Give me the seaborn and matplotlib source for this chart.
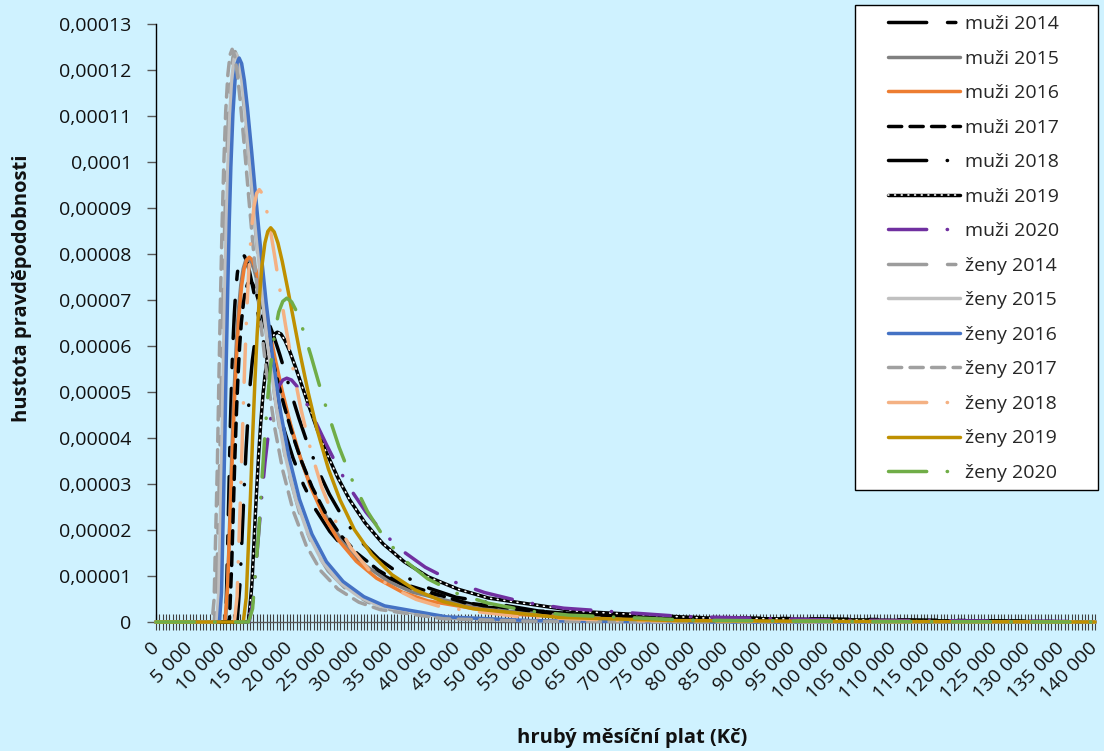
"""
Hustota pravděpodobnosti hrubého měsíčního platu (muži / ženy, 2014-2020).
Values are read off the reference chart, in units of 1e-5.
"""

import matplotlib
matplotlib.use("Agg")
import matplotlib.pyplot as plt
from matplotlib.patches import Rectangle
from matplotlib.ticker import MultipleLocator, FuncFormatter
import seaborn as sns

sns.set_theme(style="white")
plt.rcParams["font.family"] = ["Open Sans", "DejaVu Sans"]

BG = "#cff2ff"
SCALE = 1e-5

# --- data (x in Kč, y in 1e-5) ---------------------------------------------
x_muzi_2014 = [0, 10300, 10430, 10690, 11080, 11280, 11470, 11670, 11860, 12120, 12380,
               12640, 12900, 13210, 13550, 13940, 14460, 14980, 15500, 16280, 17060,
               18100, 19140, 20440, 22000, 23820, 25900, 28500, 31100, 38900, 49300,
               67500, 140000]
y_muzi_2014 = [0, 0, 0.16, 1.66, 4.25, 5.26, 6.06, 6.67, 7.14, 7.57, 7.83,
               7.96, 8.0, 7.95, 7.83, 7.62, 7.26, 6.88, 6.49, 5.91, 5.37,
               4.72, 4.16, 3.56, 2.98, 2.44, 1.97, 1.53, 1.21, 0.65, 0.32,
               0.12, 0]

x_muzi_2015 = [0, 10200, 10380, 10730, 11250, 11510, 11780, 12040, 12300, 12650, 13000,
               13350, 13700, 14120, 14580, 15100, 15800, 16500, 17200, 18250, 19300,
               20700, 22100, 23850, 26000, 28400, 31200, 34700, 38200, 48700, 62700,
               87200, 140000]
y_muzi_2015 = [0, 0, 0.04, 0.99, 3.42, 4.53, 5.46, 6.22, 6.79, 7.34, 7.68,
               7.85, 7.9, 7.84, 7.68, 7.40, 6.95, 6.47, 5.99, 5.29, 4.66,
               3.93, 3.33, 2.71, 2.13, 1.64, 1.23, 0.88, 0.65, 0.28, 0.11,
               0.03, 0]

x_muzi_2016 = [0, 10100, 10290, 10670, 11240, 11530, 11810, 12100, 12380, 12760, 13140,
               13520, 13900, 14360, 14850, 15420, 16180, 16940, 17700, 18840, 19980,
               21500, 23020, 24920, 27200, 29860, 32900, 36700, 40500, 51900, 67100,
               93700, 140000]
y_muzi_2016 = [0, 0, 0.02, 0.74, 3.05, 4.20, 5.20, 6.03, 6.68, 7.30, 7.68,
               7.87, 7.93, 7.87, 7.68, 7.36, 6.85, 6.31, 5.77, 5.01, 4.34,
               3.58, 2.95, 2.33, 1.78, 1.32, 0.95, 0.65, 0.46, 0.18, 0.06,
               0.01, 0]

x_muzi_2017 = [0, 10800, 10960, 11280, 11760, 12000, 12240, 12480, 12720, 13040, 13360,
               13680, 14000, 14380, 14800, 15280, 15920, 16560, 17200, 18160, 19120,
               20400, 21680, 23280, 25200, 27440, 30000, 33200, 36400, 46000, 58800,
               81200, 140000]
y_muzi_2017 = [0, 0, 0.08, 1.22, 3.58, 4.57, 5.38, 6.02, 6.50, 6.94, 7.22,
               7.36, 7.4, 7.36, 7.22, 6.99, 6.62, 6.23, 5.82, 5.23, 4.69,
               4.05, 3.50, 2.93, 2.39, 1.90, 1.49, 1.12, 0.85, 0.42, 0.19,
               0.06, 0]

x_muzi_2018 = [0, 11900, 12110, 12520, 13130, 13440, 13750, 14050, 14360, 14770, 15180,
               15590, 16000, 16490, 17030, 17640, 18460, 19280, 20100, 21330, 22560,
               24200, 25840, 27890, 30350, 33220, 36500, 40600, 44700, 57000, 73400,
               102100, 140000]
y_muzi_2018 = [0, 0, 0.04, 0.83, 2.85, 3.78, 4.56, 5.19, 5.68, 6.13, 6.42,
               6.56, 6.6, 6.55, 6.42, 6.18, 5.81, 5.41, 5.00, 4.42, 3.89,
               3.29, 2.78, 2.26, 1.78, 1.37, 1.03, 0.74, 0.54, 0.24, 0.10,
               0.03, 0]

x_muzi_2019 = [0, 13600, 13830, 14280, 14950, 15290, 15630, 15960, 16300, 16750, 17200,
               17650, 18100, 18640, 19230, 19900, 20800, 21700, 22600, 23950, 25300,
               27100, 28900, 31150, 33850, 37000, 40600, 45100, 49600, 63100, 81100,
               112600, 140000]
y_muzi_2019 = [0, 0, 0.04, 0.79, 2.72, 3.61, 4.35, 4.96, 5.42, 5.85, 6.12,
               6.26, 6.3, 6.26, 6.12, 5.90, 5.54, 5.16, 4.78, 4.22, 3.72,
               3.14, 2.65, 2.16, 1.70, 1.31, 0.98, 0.71, 0.52, 0.23, 0.09,
               0.03, 0]

x_muzi_2020 = [0, 13600, 13900, 14490, 15370, 15810, 16260, 16700, 17140, 17730, 18320,
               18910, 19500, 20210, 20980, 21860, 23040, 24220, 25400, 27170, 28940,
               31300, 33660, 36610, 40150, 44280, 49000, 54900, 60800, 78500, 102100,
               140000]
y_muzi_2020 = [0, 0, 0.01, 0.49, 2.04, 2.81, 3.48, 4.03, 4.46, 4.88, 5.13,
               5.26, 5.3, 5.26, 5.13, 4.92, 4.58, 4.22, 3.86, 3.35, 2.90,
               2.39, 1.97, 1.56, 1.19, 0.88, 0.64, 0.43, 0.30, 0.12, 0.04,
               0.01]

x_zeny_2014 = [0, 8500, 8670, 9000, 9490, 9740, 9990, 10230, 10480, 10810, 11140,
               11470, 11800, 12200, 12630, 13120, 13780, 14440, 15100, 16090, 17080,
               18400, 19720, 21370, 23350, 25660, 28300, 31600, 34900, 44800, 58000,
               81100, 140000]
y_zeny_2014 = [0, 0, 0, 0.51, 3.42, 5.27, 7.03, 8.57, 9.83, 11.07, 11.87,
               12.28, 12.4, 12.26, 11.87, 11.21, 10.19, 9.13, 8.10, 6.70, 5.51,
               4.24, 3.27, 2.39, 1.66, 1.11, 0.72, 0.43, 0.27, 0.07, 0.02,
               0, 0]

x_zeny_2015 = [0, 8900, 9050, 9360, 9820, 10040, 10270, 10500, 10730, 11040, 11340,
               11650, 11950, 12320, 12710, 13170, 13780, 14390, 15000, 15920, 16830,
               18050, 19270, 20800, 22630, 24760, 27200, 30250, 33300, 42450, 54650,
               76000, 140000]
y_zeny_2015 = [0, 0, 0.01, 0.64, 3.75, 5.59, 7.31, 8.78, 9.97, 11.13, 11.86,
               12.24, 12.35, 12.23, 11.86, 11.25, 10.30, 9.30, 8.32, 6.99, 5.83,
               4.58, 3.61, 2.69, 1.93, 1.32, 0.88, 0.55, 0.35, 0.11, 0.03,
               0, 0]

x_zeny_2016 = [0, 9300, 9460, 9770, 10230, 10460, 10700, 10930, 11160, 11470, 11780,
               12090, 12400, 12770, 13180, 13640, 14260, 14880, 15500, 16430, 17360,
               18600, 19840, 21390, 23250, 25420, 27900, 31000, 34100, 43400, 55800,
               77500, 140000]
y_zeny_2016 = [0, 0, 0.01, 0.64, 3.72, 5.55, 7.26, 8.72, 9.89, 11.05, 11.77,
               12.15, 12.26, 12.14, 11.77, 11.17, 10.23, 9.23, 8.26, 6.94, 5.79,
               4.55, 3.58, 2.67, 1.91, 1.31, 0.88, 0.55, 0.35, 0.11, 0.03,
               0, 0]

x_zeny_2017 = [0, 8200, 8360, 8670, 9150, 9380, 9620, 9850, 10090, 10400, 10720,
               11040, 11350, 11730, 12140, 12610, 13240, 13870, 14500, 15440, 16390,
               17650, 18910, 20490, 22380, 24580, 27100, 30250, 33400, 42850, 55450,
               77500, 140000]
y_zeny_2017 = [0, 0, 0, 0.51, 3.43, 5.29, 7.06, 8.60, 9.87, 11.12, 11.91,
               12.33, 12.45, 12.31, 11.91, 11.25, 10.23, 9.16, 8.13, 6.72, 5.53,
               4.26, 3.29, 2.40, 1.67, 1.11, 0.72, 0.43, 0.27, 0.07, 0.02,
               0, 0]

x_zeny_2018 = [0, 11500, 11700, 12090, 12670, 12960, 13260, 13550, 13840, 14230, 14620,
               15010, 15400, 15870, 16380, 16960, 17740, 18520, 19300, 20470, 21640,
               23200, 24760, 26710, 29050, 31780, 34900, 38800, 42700, 54400, 70000,
               97300, 140000]
y_zeny_2018 = [0, 0, 0.01, 0.56, 3.03, 4.44, 5.72, 6.80, 7.66, 8.52, 9.04,
               9.32, 9.4, 9.31, 9.04, 8.60, 7.91, 7.18, 6.46, 5.47, 4.61,
               3.66, 2.91, 2.21, 1.61, 1.13, 0.77, 0.49, 0.32, 0.11, 0.03,
               0.01, 0]

x_zeny_2019 = [0, 12800, 13020, 13450, 14090, 14410, 14740, 15060, 15380, 15810, 16240,
               16670, 17100, 17620, 18180, 18820, 19680, 20540, 21400, 22690, 23980,
               25700, 27420, 29570, 32150, 35160, 38600, 42900, 47200, 60100, 77300,
               107400, 140000]
y_zeny_2019 = [0, 0, 0.01, 0.52, 2.76, 4.04, 5.21, 6.20, 6.98, 7.76, 8.24,
               8.49, 8.57, 8.48, 8.24, 7.84, 7.21, 6.55, 5.89, 4.99, 4.20,
               3.33, 2.66, 2.01, 1.47, 1.03, 0.70, 0.44, 0.29, 0.10, 0.03,
               0.01, 0]

x_zeny_2020 = [0, 13500, 13800, 14400, 15300, 15750, 16200, 16650, 17100, 17700, 18300,
               18900, 19500, 20220, 21000, 21900, 23100, 24300, 25500, 27300, 29100,
               31500, 33900, 36900, 40500, 44700, 49500, 55500, 61500, 79500, 103500,
               140000]
y_zeny_2020 = [0, 0, 0, 0.29, 1.94, 2.99, 3.99, 4.86, 5.58, 6.29, 6.74,
               6.97, 7.04, 6.96, 6.74, 6.36, 5.79, 5.18, 4.60, 3.80, 3.13,
               2.41, 1.86, 1.36, 0.94, 0.63, 0.41, 0.24, 0.15, 0.04, 0.01,
               0]

# --- line styles (dash patterns in linewidth units) ------------------------
LONG_SHORT = (0, (11, 6, 2.4, 6))
LONG_DOT = (0, (11, 5.9, 0.1, 5.9))
DASHED = (0, (3.8, 2.4))

series = [
    ("muži 2014", x_muzi_2014, y_muzi_2014, "#000000", LONG_SHORT),
    ("muži 2015", x_muzi_2015, y_muzi_2015, "#808080", "-"),
    ("muži 2016", x_muzi_2016, y_muzi_2016, "#ed7d31", "-"),
    ("muži 2017", x_muzi_2017, y_muzi_2017, "#000000", DASHED),
    ("muži 2018", x_muzi_2018, y_muzi_2018, "#000000", LONG_DOT),
    ("muži 2019", x_muzi_2019, y_muzi_2019, "#000000", "-"),
    ("muži 2020", x_muzi_2020, y_muzi_2020, "#7030a0", LONG_DOT),
    ("ženy 2014", x_zeny_2014, y_zeny_2014, "#9c9c9c", LONG_SHORT),
    ("ženy 2015", x_zeny_2015, y_zeny_2015, "#c0c0c0", "-"),
    ("ženy 2016", x_zeny_2016, y_zeny_2016, "#4472c4", "-"),
    ("ženy 2017", x_zeny_2017, y_zeny_2017, "#a0a0a0", DASHED),
    ("ženy 2018", x_zeny_2018, y_zeny_2018, "#f4b183", LONG_DOT),
    ("ženy 2019", x_zeny_2019, y_zeny_2019, "#bf9000", "-"),
    ("ženy 2020", x_zeny_2020, y_zeny_2020, "#70ad47", LONG_DOT),
]

# --- figure ------------------------------------------------------------------
W, H = 1104, 751
fig = plt.figure(figsize=(W / 100, H / 100), dpi=100, facecolor=BG)
ax = fig.add_axes([156 / W, 129 / H, (1095 - 156) / W, (622 - 24) / H])
ax.set_facecolor(BG)

handles, labels = [], []
for name, xs, ys, color, ls in series:
    sns.lineplot(x=xs, y=[v * SCALE for v in ys], ax=ax, color=color, linewidth=2.5,
                 linestyle=ls, dash_capstyle="round", solid_capstyle="round",
                 estimator=None, errorbar=None, clip_on=False, zorder=3)
    line = ax.lines[-1]
    if name == "muži 2019":
        # black line with small white dots on it
        sns.lineplot(x=xs, y=[v * SCALE for v in ys], ax=ax, color="white",
                     linewidth=1.2, linestyle=(0, (0.5, 3.5)), dash_capstyle="round",
                     estimator=None, errorbar=None, clip_on=False, zorder=3)
        handles.append((line, ax.lines[-1]))
    else:
        handles.append(line)
    labels.append(name)

ax.set_xlim(0, 140000)
ax.set_ylim(0, 0.00013)

ax.xaxis.set_major_locator(MultipleLocator(5000))
ax.xaxis.set_minor_locator(MultipleLocator(500))
ax.yaxis.set_major_locator(MultipleLocator(0.00001))
ax.xaxis.set_major_formatter(FuncFormatter(lambda v, p: f"{int(round(v)):,}".replace(",", " ")))


def y_fmt(v, p):
    s = f"{v:.5f}".rstrip("0").rstrip(".")
    return s.replace(".", ",")


ax.yaxis.set_major_formatter(FuncFormatter(y_fmt))

ax.tick_params(axis="x", which="both", direction="inout", length=11, width=0.8,
               color="#404040", bottom=True, labelsize=14, labelcolor="#111111", pad=11)
ax.tick_params(axis="y", direction="out", length=6.5, width=1, color="#595959",
               left=True, labelsize=14, labelcolor="#111111", pad=11)
for lbl in ax.get_xticklabels():
    lbl.set_rotation(45)
    lbl.set_ha("right")
    lbl.set_va("center")
    lbl.set_rotation_mode("anchor")

for side in ("top", "right"):
    ax.spines[side].set_visible(False)
ax.spines["left"].set_color("#000000")
ax.spines["left"].set_linewidth(1)
ax.spines["bottom"].set_color("#595959")
ax.spines["bottom"].set_linewidth(1)
ax.set_xlabel("")
ax.set_ylabel("")

fig.text(632 / W, 1 - 738 / H, "hrubý měsíční plat (Kč)", ha="center", va="center",
         fontsize=14.5, fontweight="bold", color="#111111")
fig.text(22 / W, 1 - 288 / H, "hustota pravděpodobnosti", ha="center", va="center",
         rotation=90, fontsize=14.5, fontweight="bold", color="#111111")

# legend box and entries
fig.patches.append(Rectangle((855 / W, 1 - 490 / H), 243 / W, 485 / H,
                             transform=fig.transFigure, facecolor="white",
                             edgecolor="#000000", linewidth=1, zorder=3))
fig.legend(handles, labels, loc="upper left", bbox_to_anchor=(888 / W, 1 - 15 / H),
           frameon=False, borderpad=0, borderaxespad=0, handlelength=3.7,
           handletextpad=0.25, labelspacing=0.85, fontsize=14)

fig.savefig("out.png", dpi=100, facecolor=BG)
